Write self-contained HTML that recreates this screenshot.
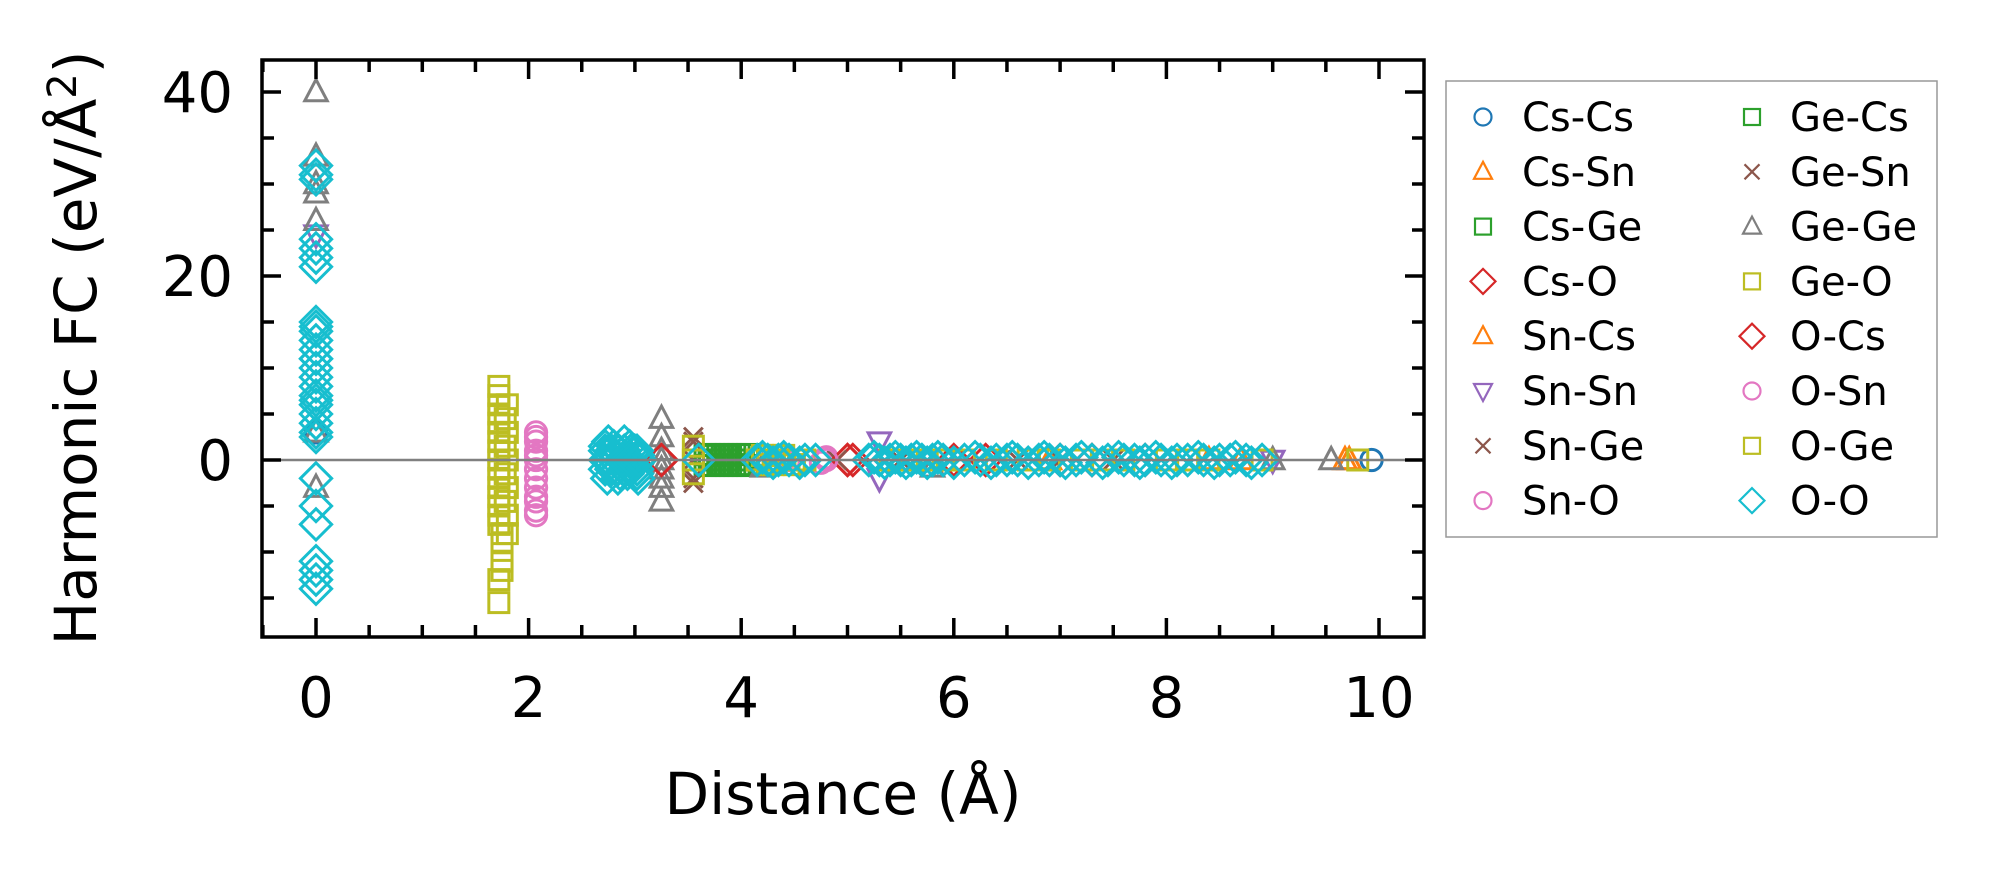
<!DOCTYPE html>
<html><head><meta charset="utf-8"><style>
html,body{margin:0;padding:0;background:#fff;}
svg{display:block;font-family:"DejaVu Sans","Liberation Sans",sans-serif;}
</style></head><body>
<svg id="chart" width="1998" height="883" viewBox="0 0 1998 883" xmlns="http://www.w3.org/2000/svg">
<g id="plot"></g>
<g id="axes"></g>
<g id="legend"></g>
</svg>
<script>
const seriesNames=["Cs-Cs","Cs-Sn","Cs-Ge","Cs-O","Sn-Cs","Sn-Sn","Sn-Ge","Sn-O","Ge-Cs","Ge-Sn","Ge-Ge","Ge-O","O-Cs","O-Sn","O-Ge","O-O"];
const seriesColors=["#1f77b4","#ff7f0e","#2ca02c","#d62728","#ff7f0e","#9467bd","#8c564b","#e377c2","#2ca02c","#8c564b","#7f7f7f","#bcbd22","#d62728","#e377c2","#bcbd22","#17becf"];
const seriesMarkers=["o","^","s","D","^","v","x","o","s","x","^","s","D","o","s","D"];
const csCsX=[0,9.93];const csCsY=[3,0];
const csSnX=[9.72,6.9,8.4];const csSnY=[0,0,0];
const csGeX=[3.7,3.8,3.9,4.0];const csGeY=[0.5,-0.5,0.5,-0.5];
const csOX=[3.25,5.0,6.0,7.3,7.8,5.05,6.3,7.0];const csOY=[0,0,0,0,0,0,0,0];
const snCsX=[9.68,8.7];const snCsY=[0,0];
const snSnX=[0,5.3,5.3,9.0];const snSnY=[24.5,2,-2,0];
const snGeX=[3.55,3.55,3.55,4.9,6.6,7.5];const snGeY=[2.5,-2.5,0,0,0,0];
const snOX=[2.07,2.07,2.07,2.07,2.07,2.07,2.07,2.07,2.07,2.07,2.07,4.4,4.8,4.75];const snOY=[3,2.5,2,1,0.5,0,-1,-2,-3,-4,-5.5,0,0.3,-0.3];
const geCsX=[3.66,3.7,3.74,3.78,3.82,3.86,3.9,3.94,3.98,4.02,4.06,3.66,3.7,3.74,3.78,3.82,3.86,3.9,3.94,3.98,4.02,4.06,3.7,3.8,3.9,4.0];
const geCsY=[0.6,0.6,0.6,0.6,0.6,0.6,0.6,0.6,0.6,0.6,0.6,-0.6,-0.6,-0.6,-0.6,-0.6,-0.6,-0.6,-0.6,-0.6,-0.6,-0.6,0,0,0,0];
const geSnX=[3.55,3.55,5.5,7.0];const geSnY=[2,-2,0,0];
const geGeX=[0,0,0,0,0,0,0,3.25,3.25,3.25,3.25,3.25,3.25,3.25,3.25,4.2,5.8,9.0,9.55];const geGeY=[40,33,30,29,26,3,-3,4.5,2.5,1,0,-1,-2,-3,-4.5,-0.8,-0.8,0,0];
const geOX=[3.55,3.55,3.55,4.2,4.3,4.4,4.5,4.6,4.25,4.35,4.45,5.9,9.8];const geOY=[1.5,-1.5,0,0.5,-0.5,0.5,-0.5,0,-0.5,0.5,-0.5,0,0];
const oCsX=[3.25,5.0,7.3];const oCsY=[0,0,0];
const oSnX=[4.45,4.8,2.07,2.07];const oSnY=[0,0,-4.5,-6];
const oGeX=[1.72,1.72,1.72,1.72,1.72,1.72,1.72,1.72,1.72,1.72,1.72,1.72,1.72,1.72,1.72,1.72,1.75,1.75,1.75,1.75,1.72,1.72,1.8,1.8,1.8,1.8,1.8,1.8,1.78,1.78,1.78,1.78,4.15,4.25,4.35,4.5,5.4,5.6,6.1,6.4,6.9,7.2,7.6,8.0,8.4,8.9,5.75,6.7,7.4,8.2];
const oGeY=[8,7,6,5,4,3,2,1,0,-1,-2,-3,-4,-5,-6,-7,-8,-9,-11,-12,-13,-15.5,6,3,0,-3,-6,-8,4.5,1.5,-1.5,-4.5,0,0,0,0,0,0,0,0,0,0,0,0,0,0,0,0,0,0];
const oOX=[0,0,0,0,0,0,0,0,0,0,0,0,0,0,0,0,0,0,0,0,0,0,0,0,0,0,0,0,0,0,0,
2.72,2.75,2.8,2.85,2.9,2.95,3.0,3.03,2.75,2.82,2.9,2.98,3.05,2.78,2.86,2.94,3.02,2.74,2.84,2.93,3.03,
2.72,2.78,2.84,2.9,2.96,3.02,2.72,2.78,2.84,2.9,2.96,3.02,2.72,2.8,2.88,2.96,3.04,
3.6,4.15,4.25,4.35,4.45,4.6,4.7,5.2,5.3,5.4,5.5,5.6,5.7,5.8,5.9,6.1,6.25,6.4,6.5,6.6,6.8,6.9,7.0,7.15,7.3,7.45,7.6,7.7,7.8,7.95,8.1,8.2,8.35,8.5,8.6,8.75,8.9,
5.25,5.35,5.45,5.55,5.65,5.75,5.85,6.0,6.2,6.35,6.55,6.7,6.85,7.05,7.2,7.4,7.55,7.75,7.9,8.05,8.3,8.45,8.65,8.8,4.2,4.3,4.4,4.55];
const oOY=[32,31,30.5,24,23,22,21,15,14.5,14,13,12,11,11,10,9,8,7,6.5,6,5,4,3,2.5,-2,-5,-7,-11,-12,-13,-14,
1.5,2,1.5,1,2,1.5,1,0.5,0,0.5,0,-0.5,0,-1,-1.5,-1,-1.5,-2,-2,-1.5,-2,
1,1,1,1,1,1,-1,-1,-1,-1,-1,-1,0,0,0,0,0,
0,0,0,0,0,0,0,0,0,0,0,0,0,0,0,0,0,0,0,0,0,0,0,0,0,0,0,0,0,0,0,0,0,0,0,0,0,
0.3,-0.3,0.3,-0.3,0.3,-0.3,0.3,-0.3,0.3,-0.3,0.3,-0.3,0.3,-0.3,0.3,-0.3,0.3,-0.3,0.3,-0.3,0.3,-0.3,0.3,-0.3,0.3,-0.3,0.3,-0.3];
const seriesX=[csCsX,csSnX,csGeX,csOX,snCsX,snSnX,snGeX,snOX,geCsX,geSnX,geGeX,geOX,oCsX,oSnX,oGeX,oOX];
const seriesY=[csCsY,csSnY,csGeY,csOY,snCsY,snSnY,snGeY,snOY,geCsY,geSnY,geGeY,geOY,oCsY,oSnY,oGeY,oOY];
const xTicks=[0,2,4,6,8,10];
const yTicks=[0,20,40];

const NS="http://www.w3.org/2000/svg";
const L=262,R=1424,T=60,B=637;
function sx(v){return 316+(v-0)*106.3;}
function sy(v){return 460-v*9.2;}
function mk(tag,attrs,parent){const e=document.createElementNS(NS,tag);for(const k in attrs)e.setAttribute(k,attrs[k]);parent.appendChild(e);return e;}
function marker(type,cx,cy,col,parent,r,sw){
  let e;
  const a={fill:"none",stroke:col,"stroke-width":sw};
  if(type==="o"){e=mk("circle",Object.assign({cx:cx,cy:cy,r:r*0.85},a),parent);}
  else if(type==="s"){e=mk("rect",Object.assign({x:cx-r*0.8,y:cy-r*0.8,width:r*1.6,height:r*1.6},a),parent);}
  else if(type==="D"){e=mk("polygon",Object.assign({points:`${cx},${cy-r*1.25} ${cx+r*1.25},${cy} ${cx},${cy+r*1.25} ${cx-r*1.25},${cy}`},a),parent);}
  else if(type==="^"){e=mk("polygon",Object.assign({points:`${cx},${cy-r} ${cx+r*0.9},${cy+r*0.7} ${cx-r*0.9},${cy+r*0.7}`},a),parent);}
  else if(type==="v"){e=mk("polygon",Object.assign({points:`${cx},${cy+r} ${cx+r*0.9},${cy-r*0.7} ${cx-r*0.9},${cy-r*0.7}`},a),parent);}
  else {e=mk("path",Object.assign({d:`M${cx-r*0.75},${cy-r*0.75}L${cx+r*0.75},${cy+r*0.75}M${cx+r*0.75},${cy-r*0.75}L${cx-r*0.75},${cy+r*0.75}`},a),parent);}
  return e;
}
const plot=document.getElementById('plot');
for(let s=0;s<seriesNames.length;s++){
  const g=mk("g",{},plot);
  
  
  for(let i=0;i<seriesX[s].length;i++){
    const m=marker(seriesMarkers[s],sx(seriesX[s][i]),sy(seriesY[s][i]),seriesColors[s],g,12.5,3);
    
    
  }
}
const zl=mk("line",{x1:L,x2:R,y1:sy(0),y2:sy(0),stroke:"#808080","stroke-width":2.5},plot);



const axes=document.getElementById('axes');
for(let v=-0.5;v<=10.4;v+=0.5){
  const major=Math.abs(v%2)<1e-6;
  const len=major?19:12;
  mk("line",{x1:sx(v),x2:sx(v),y1:B,y2:B-len,stroke:"#000","stroke-width":3.5},axes);
  mk("line",{x1:sx(v),x2:sx(v),y1:T,y2:T+len,stroke:"#000","stroke-width":3.5},axes);
}
for(let v=-15;v<=40;v+=5){
  const major=v%20===0;
  const len=major?19:12;
  mk("line",{x1:L,x2:L+len,y1:sy(v),y2:sy(v),stroke:"#000","stroke-width":3.5},axes);
  mk("line",{x1:R,x2:R-len,y1:sy(v),y2:sy(v),stroke:"#000","stroke-width":3.5},axes);
}
const frame=mk("rect",{x:L,y:T,width:R-L,height:B-T,fill:"none",stroke:"#000","stroke-width":3.5},axes);


for(const t of xTicks){
  const tx=mk("text",{x:sx(t),y:717,"font-size":56,"text-anchor":"middle",fill:"#000"},axes);
  tx.textContent=t;
  
  
}
for(const t of yTicks){
  const tx=mk("text",{x:233,y:sy(t)+20,"font-size":56,"text-anchor":"end",fill:"#000"},axes);
  tx.textContent=t;
  
  
}
const xt=mk("text",{x:843,y:814,"font-size":58,"text-anchor":"middle",fill:"#000"},axes);
xt.textContent="Distance (Å)";


const yt=mk("text",{x:0,y:0,"font-size":58,"text-anchor":"middle",fill:"#000",transform:"translate(96,348) rotate(-90)"},axes);
yt.innerHTML='Harmonic FC (eV/Å<tspan dy="-20" font-size="40">2</tspan><tspan dy="20">)</tspan>';



const leg=document.getElementById('legend');
const box=mk("rect",{x:1446,y:81,width:491,height:456,fill:"#fff",stroke:"#999","stroke-width":1.5},leg);


for(let s=0;s<seriesNames.length;s++){
  const col=Math.floor(s/8),row=s%8;
  const mx=col?1752:1483, tx=col?1790:1522, y=117+row*54.8;
  const g=mk("g",{},leg);
  
  
  marker(seriesMarkers[s],mx,y,seriesColors[s],g,10,2.2);
  const t=mk("text",{x:tx,y:y+14,"font-size":40,fill:"#000"},g);
  t.textContent=seriesNames[s];
}
</script>
</body></html>
